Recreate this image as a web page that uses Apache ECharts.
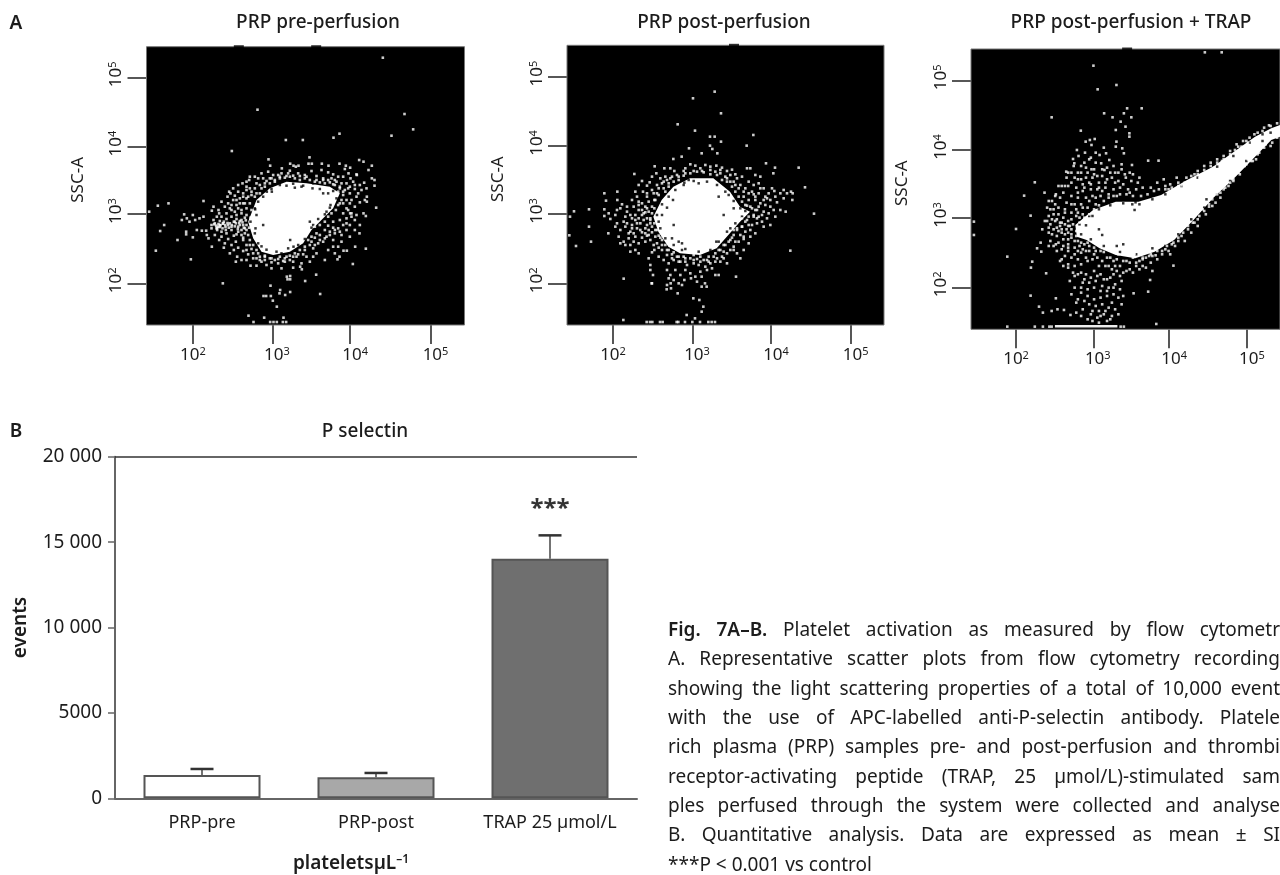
<!DOCTYPE html>
<html><head><meta charset="utf-8">
<style>html,body{margin:0;padding:0;background:#fff}#c{width:1280px;height:875px}</style>
<script src="https://cdn.jsdelivr.net/npm/echarts@6/dist/echarts.min.js"></script>
</head><body><div id="c"></div>
<script>
// Flow-cytometry panels: values are display channels (biexponential scale), ticks at the decades.
const decadeExponents = [2,3,4,5];
const preXTicks=[139,379,611,852], preYTicks=[125,333,535,743];
const postXTicks=[138,378,612,851], postYTicks=[125,333,537,745];
const trapXTicks=[139,379,612,852], trapYTicks=[126,334,538,747];

const preCore=[[305,310],[330,375],[370,410],[420,430],[480,425],[550,415],[580,395],[560,350],[530,320],[495,285],[470,245],[430,220],[380,210],[345,220],[320,260]];
const preHoles=[[326,347],[296,343],[301,310],[289,287],[303,285],[431,255],[501,280],[441,235],[376,400],[361,400],[401,435],[465,415],[498,410],[530,395],[540,340],[552,360],[350,300],[327,290],[575,375],[500,425],
[325,350],[335,370],[350,385],[375,408],[400,420],[440,424],[470,418],[520,408],[560,402],[570,380],[550,352],[535,332],[515,318],[495,292],[475,258],[455,240],[425,230],[390,220],[360,226],[335,245],[325,275],[312,310],[445,412],[420,418],[545,395],[500,300],[490,310],[330,330],[345,236],[405,215]];
const preDots=[[709,802],[333,646],[774,633],[800,587],[735,568],[579,574],[561,562],[418,555],[469,555],[256,522],[489,503],[366,497],[638,495],[651,490],[676,478],[579,484],[598,478],[546,478],[526,484],[496,484],[486,484],[431,484],[441,478],[456,478],[406,470],[371,478],[611,472],[666,465],[606,455],[631,450],[676,440],[684,435],[653,427],[684,418],[689,352],[661,385],[661,370],[651,335],[658,327],[611,335],[639,275],[626,235],[658,229],[591,223],[601,223],[579,205],[573,197],[619,183],
[521,93],[509,151],[476,132],[466,167],[461,175],[431,137],[423,137],[421,145],[431,147],[372,118],[431,99],[416,90],[401,105],[399,95],[373,87],[359,87],[351,87],[379,73],[391,55],[306,28],[321,9],[353,22],[371,9],[381,9],[391,9],[409,9],[419,9],[411,22],[229,125],[133,197],[28,223],[93,255],[41,282],[53,300],[8,340],[34,358],[66,365],[171,372],[113,332],[106,315],[121,320],[129,310],[146,315],[159,320],[171,325],[139,330],[119,280],[119,272],[139,263],[151,285],[166,283],[179,283],[181,270],[186,260],[196,235],[201,355],[196,343],[216,345],[211,325],[201,315],
[365,460],[430,463],[448,475],[495,462],[525,465],[560,452],[630,452],[595,468],[545,458],[405,455],[325,445],[308,435],[275,420],[248,400],[635,395],[655,375],[612,440],[590,445],[570,430],[620,430],[640,420],[600,425],[660,410],[645,405],[625,408],[605,410],[580,415],[590,400],[610,395],[630,385],[615,375],[640,368],[600,375],[580,365],[625,355],[605,345],[590,335],[630,330],[615,325],[600,320],[580,315],[560,310],[590,300],[575,290],[560,292],[545,298],[610,300],[600,285],[585,270],[565,275],[550,280],[535,285],[520,270],[505,262],[540,265],[560,255],[530,250],[515,245],[495,250],[475,225],[500,230],[480,205],[455,212],[440,205],[420,205],[395,198],[375,200],[355,205],[335,215],[315,228],[300,240],[290,255],[285,270],[295,290],[275,280],[262,268],[245,258],[268,250],[255,240],[275,232],[290,222],[305,212],[320,200],[345,190],[360,180],[375,170],[395,185],[415,190],[440,190],[465,185],[500,205],[535,195],[330,178],[272,205],[285,195],[262,225],[235,245],[225,265],[240,275],[210,290],[220,300],[195,290],[245,300],[255,295],[268,305],[280,312],[295,322],[270,330],[255,345],[240,335],[225,325],[285,345],[270,360],[245,365],[260,375],[280,380],[295,365],[305,385],[290,395],[275,400],[260,410],[300,415],[315,400],[330,395],[345,410],[330,425],[355,425],[370,440],[385,430],[350,440],[400,445],[420,447],[440,448],[460,447],[475,450],[510,447],[530,440],[545,435],[560,422],[555,440],[575,400],[575,445],[235,355],[225,370],[243,385],[252,395],[232,310],[218,335],[300,405],[310,445],[335,440],[345,455],[380,450],[300,430],[288,425],[265,388],[250,350],[205,270],[218,255],[232,232],[250,215],[268,190],[300,195],[312,178],[330,200],[405,170],[440,172],[490,190],[510,215],[545,225],[565,215],[575,235],[585,250],[610,265],[625,285],[640,300],[625,315],[560,235],
[300,330],[315,345],[310,365],[325,385],[340,395],[355,415],[370,425],[385,435],[400,440],[415,442],[430,445],[445,440],[460,435],[475,440],[490,435],[505,430],[520,428],[535,425],[550,428],[565,420],[580,410],[590,390],[585,375],[575,360],[590,365],[568,345],[555,335],[545,325],[535,310],[520,300],[505,295],[510,275],[495,265],[485,255],[475,235],[460,225],[445,215],[430,208],[415,200],[400,205],[385,195],[370,200],[355,208],[340,205],[330,225],[320,240],[310,255],[305,270],[300,285],[290,300],[285,315],[275,295],[265,310],[255,325],[250,305],[240,318],[230,305],[220,312],[215,295],[205,305],[195,300],[212,285],[225,280],[238,285],[255,285],[270,272],[285,285],[280,300],[295,275],[290,262],[310,240],[300,225],[320,215],[340,195],[355,195],[375,188],[410,192],[430,195],[450,205],[470,212],[490,240],[505,240],[520,255],[535,260],[550,270],[565,285],[580,280],[600,305],[615,335],[600,350],[610,365],[595,405],[610,415],[625,420],[585,425],[565,435],[530,435],[510,435],[480,445],[455,455],[425,455],[395,450],[375,440],[360,432],[340,420],[325,410],[315,390],[300,380],[290,365],[300,350],[285,335],[275,350],[265,340],[280,365],[290,385],[310,410],[270,375],[255,360],
[203,302],[209,298],[216,303],[222,299],[229,304],[236,300],[243,306],[212,291],[220,294],[228,290],[237,294],[247,292],[256,300],[262,310],[270,318],[278,306],[288,308],[298,314],[265,296],[274,288],[300,300],[292,292],[308,292],[312,322],[318,300]];

const postCore=[[259,325],[284,375],[319,415],[369,440],[439,440],[489,400],[519,355],[549,340],[519,310],[484,270],[449,230],[399,210],[339,215],[304,235],[274,280]];
const postHoles=[[318,375],[300,352],[285,330],[320,300],[335,250],[315,260],[345,225],[455,385],[485,390],[470,330],[500,350],[365,435],[395,425],[345,245],[448,250],[490,290],[350,420],
[270,330],[285,362],[305,385],[325,405],[352,427],[380,432],[420,430],[450,420],[475,400],[500,372],[520,350],[525,325],[505,305],[480,280],[455,250],[430,225],[395,220],[355,228],[320,240],[295,260],[280,290],[275,310],[535,342]];
const postDots=[[443,700],[378,680],[462,635],[332,602],[384,583],[559,570],[429,565],[443,565],[462,550],[539,538],[366,530],[429,538],[436,528],[404,515],[451,515],[344,505],[319,498],[597,485],[695,472],[624,472],[619,455],[714,413],[741,334],[670,223],[677,395],[676,375],[656,340],[507,145],[170,139],[169,15],[9,325],[21,341],[66,347],[66,295],[7,269],[27,237],[72,250],[112,395],[117,373],[112,347],[112,327],[124,275],[151,400],[151,375],[202,453],
[239,9],[249,9],[256,9],[279,9],[287,9],[329,9],[334,9],[354,9],[376,9],[399,9],[424,9],[434,9],[444,9],[359,30],[384,20],[404,40],[409,55],[379,80],[397,75],[332,95],[299,107],[254,125],[311,125],[404,115],[419,115],[414,125],
[263,476],[268,455],[292,470],[310,470],[322,462],[355,470],[370,482],[385,478],[400,470],[415,480],[430,475],[448,478],[465,472],[480,462],[495,466],[505,452],[540,470],[550,470],[565,450],[580,445],[255,445],[248,428],[280,440],[295,445],[240,418],[225,432],[215,420],[228,400],[240,385],[255,405],[270,420],[285,425],[300,435],[315,445],[330,450],[350,462],[445,460],[460,455],[475,445],[490,450],[510,440],[525,445],[545,430],[560,420],[575,425],[590,410],[605,395],[622,402],[640,395],[650,380],[625,385],[610,375],[595,385],[575,395],[555,400],[535,410],[520,420],[505,420],[490,430],[530,385],[545,375],[565,375],[580,365],[595,360],[610,355],[620,345],[605,335],[590,340],[570,345],[555,350],[540,358],[560,330],[575,325],[585,310],[600,320],[590,295],[570,305],[555,300],[540,315],[525,320],[525,295],[510,285],[500,270],[520,270],[535,280],[550,285],[505,250],[490,255],[475,240],[455,225],[470,220],[490,225],[510,215],[520,200],[470,200],[440,205],[420,195],[400,205],[380,210],[355,200],[335,205],[315,212],[300,225],[285,240],[280,262],[270,285],[262,305],[255,335],[262,350],[262,375],[270,395],[290,410],[305,425],
[245,200],[250,180],[250,165],[258,150],[255,125],[275,205],[290,195],[305,185],[320,195],[340,190],[360,180],[380,195],[395,180],[415,175],[430,185],[445,190],[460,190],[300,165],[310,150],[325,165],[340,150],[355,165],[370,155],[385,145],[400,160],[420,165],[435,170],[445,150],[305,140],[320,135],[335,125],[352,135],[372,140],[390,130],[404,145],[455,150],[300,120],[312,110],[345,120],[262,225],[275,232],[255,218],
[230,335],[215,345],[200,355],[190,330],[175,325],[180,340],[205,315],[220,305],[240,300],[250,315],[235,290],[225,278],[210,290],[195,300],[170,310],[150,305],[145,295],[160,285],[175,295],[190,280],[205,265],[225,262],[240,268],[255,278],[235,250],[215,245],[200,250],[185,260],[170,250],[155,265],[160,245],[175,240],[190,240],[205,225],[190,220],[215,215],[260,240],[245,270],[130,318],[125,335],[145,330],[160,350],[180,355],[195,375],[210,385],[225,365],[240,350],[215,370],[205,400],[235,338],[150,345],[165,362],
[600,380],[615,410],[580,410],[560,392],[630,368],[650,405],[660,395],[672,400],[640,345],[625,325],[610,300],[565,275],[550,265],[530,258],[545,245],[500,235],[480,185],[530,225],
[250,320],[245,340],[255,355],[265,375],[275,390],[295,400],[305,415],[320,430],[335,435],[350,448],[370,455],[390,460],[410,458],[430,452],[450,450],[465,435],[480,430],[495,415],[505,400],[515,385],[525,370],[535,360],[550,355],[565,345],[560,325],[545,325],[535,310],[525,295],[510,290],[500,285],[495,262],[485,250],[470,240],[460,225],[445,215],[425,205],[410,195],[390,198],[370,200],[350,205],[330,205],[320,218],[305,225],[295,240],[285,255],[275,268],[265,285],[255,295],[245,285],[250,305],[240,320],[230,315],[225,330],[215,320],[205,330],[195,320],[210,305],[195,290],[180,305],[185,275],[200,275],[220,285],[235,275],[250,255],[265,265],[270,245],[285,225],[300,210],[315,200],[335,190],[355,190],[380,185],[400,190],[425,190],[450,200],[465,205],[480,215],[500,225],[515,250],[530,265],[545,300],[570,320],[585,330],[575,355],[590,375],[565,385],[545,395],[530,400],[515,410],[500,430],[480,440],[460,465],[430,465],[405,462],[380,462],[355,455],[335,445],[310,440],[290,430],[275,410],[260,395],[245,370],[235,355],[225,345],[240,395],[215,360]];

const trapCore=[[322,313],[377,358],[447,383],[517,383],[587,403],[667,448],[747,488],[827,543],[877,578],[927,603],[960,615],[960,580],[927,568],[877,518],[817,458],[747,393],[687,328],[627,268],[567,233],[507,213],[447,223],[397,243],[357,268],[327,278]];
const trapHoles=[[505,358],[727,390],[405,283],[395,300],[450,250],[470,255],[355,312],[375,340],[925,590],[508,381],[498,375],
[335,315],[365,340],[395,360],[430,372],[470,378],[520,375],[560,390],[600,405],[650,430],[700,455],[760,488],[810,520],[860,560],[900,585],[900,565],[850,505],[800,445],[760,405],[720,365],[680,330],[640,285],[600,250],[560,243],[510,225],[460,232],[410,250],[370,270],[340,285]];
const trapBottomRun=[[259,9],[452,9]];
const trapDots=[[722,831],[774,831],[378,791],[449,733],[391,720],[527,663],[482,663],[472,648],[411,648],[495,636],[437,636],[249,636],[462,623],[477,608],[447,598],[339,596],[489,588],[489,578],[449,563],[382,571],[367,568],[354,563],[327,538],[467,543],[447,548],[315,511],[579,506],[547,506],[294,473],[197,441],[164,401],[184,341],[139,301],[9,323],[9,283],[112,218],[204,243],[217,233],[189,203],[185,185],[232,168],[184,101],[210,68],[222,50],[249,55],[262,93],[267,60],[287,58],[307,43],[547,113],[553,148],[502,108],[625,191],[572,16],[112,8],[197,8],[222,8],[242,8],[249,8],[462,8],[472,8],
[372,553],[352,530],[332,520],[319,498],[417,528],[472,528],[397,523],[402,498],[317,490],[427,508],[497,493],[412,478],[372,480],[295,455],[340,470],[355,485],[385,500],[440,490],[465,495],[490,470],[478,455],[455,470],[430,470],[405,460],[380,465],[355,455],[330,450],[310,440],[345,435],[365,440],[395,440],[420,450],[445,440],[470,435],[495,445],[515,440],[530,425],[510,420],[485,420],[460,425],[440,420],[415,425],[390,420],[370,420],[345,415],[325,425],[300,430],[285,410],[310,400],[330,395],[355,395],[375,400],[400,400],[425,405],[450,400],[490,410],[275,395],[260,375],[295,380],[320,375],[340,375],[360,365],[385,375],[290,360],[310,350],[330,350],[345,345],[270,345],[255,345],[240,340],[260,325],[285,335],[300,325],
[245,315],[265,305],[280,290],[255,300],[240,290],[265,280],[285,270],[300,255],[245,265],[262,255],[280,240],[300,235],[320,245],[340,230],[355,215],[330,210],[310,215],[290,220],[275,205],[320,190],[340,195],[360,205],[380,225],[400,235],[420,215],[440,205],[455,225],[395,190],[415,190],[435,180],[460,190],[480,205],[500,215],[520,205],[540,215],[555,200],[575,210],[590,225],[610,235],[630,250],[520,180],[540,185],[560,175],[480,175],[500,170],[460,160],[440,165],[420,150],[400,165],[380,175],[355,165],[340,170],[320,160],[305,145],[345,140],[365,140],[385,145],[405,130],[425,125],[445,135],[465,145],[440,105],[420,100],[400,95],[380,90],[360,100],[340,110],[365,75],[385,70],[405,75],[425,65],[445,60],[465,75],[455,45],[435,40],[410,45],[390,35],[370,45],[345,60],[325,80],[310,105],[325,50],[395,20],[375,25],[420,25],
[575,440],[595,450],[615,435],[640,440],[665,455],[690,465],[700,475],[720,490],[740,500],[760,510],[780,520],[800,535],[820,555],[840,565],[860,575],[885,590],[905,605],[920,612],[635,455],[610,420],[555,425],[600,430],[650,432],[680,445],[705,455],[730,470],[750,485],[775,505],[795,512],[815,538],[835,548],[855,560],
[650,280],[670,300],[685,320],[700,330],[715,360],[735,375],[745,390],[760,405],[780,420],[795,430],[810,450],[825,470],[845,490],[865,505],[885,525],[905,545],[925,550],[640,265],[660,265],[680,290],[700,310],[725,345],[745,370],[770,395],[800,440],[830,480],[855,510],[880,510],[620,255],[600,240],[615,225],[575,235],[555,225],
[560,220],[530,215],[505,225],[490,230],[350,290],[330,300],[310,285],[295,300],[305,310],[335,320],[310,330],[300,270],[320,265],[340,260],[360,260],[380,245],[400,250],[425,250],[345,240],[365,235],[330,235],[275,320],[250,285],[240,305],[228,325],[220,300],[215,260],[265,330],[255,360],[240,385],[227,410],[262,405],[280,430],[300,470],[320,455],[340,490],[365,510],[385,530],[410,545],
[300,290],[310,300],[300,310],[290,315],[315,315],[325,295],[280,300],[290,285],[275,310],[270,295],[280,320],[310,275],[325,280],[340,300],[345,318],[335,335],[325,340],[350,335],[365,345],[380,360],[395,372],[410,385],[425,395],[440,400],[460,405],[480,405],[500,400],[525,400],[545,405],[565,415],[580,420],[600,420],[620,425],[640,430],[660,440],[680,460],[700,465],[720,478],[740,490],[760,500],[780,510],[800,525],[825,548],[850,565],[875,585],[900,595],[925,610],[945,618],
[330,265],[350,255],[365,250],[385,235],[410,232],[430,215],[450,210],[470,205],[490,200],[510,200],[530,210],[550,220],[570,222],[590,235],[605,250],[625,260],[640,275],[655,290],[670,310],[690,320],[705,340],[720,355],[735,368],[755,380],[770,410],[785,425],[810,445],[830,465],[850,495],[870,505],[890,530],[910,555],[930,560],[945,575],
[270,260],[285,250],[255,250],[240,250],[300,245],[320,225],[335,250],[355,235],[375,210],[390,215],[405,205],[425,190],[445,190],[470,170],[490,180],[510,190],[530,190],[450,175],[430,155],[410,150],[390,160],[370,155],[350,150],[330,165],[315,170],[300,185],[285,190],[265,235],[280,210],[300,195],[320,125],[340,125],[360,120],[380,125],[400,115],[420,115],[440,125],[460,120],[330,90],[350,85],[375,55],[395,55],[415,55],[435,80],[455,95],[470,100],[340,40],[360,30],[400,40],[430,30],
[330,410],[350,425],[370,435],[395,425],[415,440],[435,455],[455,445],[475,465],[500,465],[520,455],[340,450],[360,470],[380,480],[405,480],[420,485],[445,470],[465,480],[375,455],[390,460],[350,500],[370,515],[330,470],[310,470],[290,430],[270,430],[260,400],[250,385],[245,360],[235,365],[270,365],[290,350],[235,325],[250,330],[310,375],[325,360],[345,365],[365,385],[385,395],[405,415]];

const topNotchesPre=[[277,835],[509,835]], topNotchesPost=[[501,839]], topNotchesTrap=[[482,841]];

// Panel B
const barCategories=['PRP-pre','PRP-post','TRAP 25 µmol/L'];
const barMeans=[1366,1229,14030];
const barErrors=[351,254,1365];
const barColors=['#ffffff','#a8a8a8','#6f6f6f'];
const yTickLabels={0:'0',5000:'5000',10000:'10 000',15000:'15 000',20000:'20 000'};
const significance=[['TRAP 25 µmol/L',16950,'***']];

const captionLines=[
 ['Fig.*','7A–B.*','Platelet','activation','as','measured','by','flow','cytometr'],
 ['A.','Representative','scatter','plots','from','flow','cytometry','recording'],
 ['showing','the','light','scattering','properties','of','a','total','of','10,000','event'],
 ['with','the','use','of','APC-labelled','anti-P-selectin','antibody.','Platele'],
 ['rich','plasma','(PRP)','samples','pre-','and','post-perfusion','and','thrombi'],
 ['receptor-activating','peptide','(TRAP,','25','µmol/L)-stimulated','sam'],
 ['ples','perfused','through','the','system','were','collected','and','analyse'],
 ['B.','Quantitative','analysis.','Data','are','expressed','as','mean','±','SI'],
 ['***P','<','0.001','vs','control']
];

const FONT='"Noto Sans", sans-serif';
const INK='#1c1c1c';

const panels=[
 {left:146.5,top:46.7,w:318,h:278.3,xr:954,yr:835,xt:preXTicks,yt:preYTicks,core:[preCore],dots:preDots,holes:preHoles,notch:topNotchesPre},
 {left:567,top:45.3,w:317,h:279.7,xr:951,yr:839,xt:postXTicks,yt:postYTicks,core:[postCore],dots:postDots,holes:postHoles,notch:topNotchesPost},
 {left:971,top:49,w:318,h:280.3,xr:954,yr:841,xt:trapXTicks,yt:trapYTicks,core:[trapCore],dots:trapDots,holes:trapHoles,notch:topNotchesTrap,run:trapBottomRun}
];

const grids=[],xAxes=[],yAxes=[],series=[];
const xLabelPad=[0,8,10,10];
panels.forEach((p,i)=>{
 grids.push({left:p.left,top:p.top,width:p.w,height:p.h,show:true,backgroundColor:'#000',borderColor:'#777',borderWidth:1,z:1});
 xAxes.push({gridIndex:i,type:'value',min:0,max:p.xr,
  axisLine:{show:false},splitLine:{show:false},
  axisTick:{show:true,length:19,customValues:p.xt,lineStyle:{color:'#444',width:1.8}},
  axisLabel:{show:true,customValues:p.xt,margin:21,color:INK,fontFamily:FONT,
   formatter:v=>{const k=p.xt.indexOf(v);return '{p'+k+'|}{b|10}{s|'+decadeExponents[k]+'}';},
   rich:{b:{fontSize:17,fontFamily:FONT,color:INK},s:{fontSize:11,fontFamily:FONT,color:INK,padding:[0,0,7,0]},
     p0:{width:xLabelPad[0]},p1:{width:xLabelPad[1]},p2:{width:xLabelPad[2]},p3:{width:xLabelPad[3]}}}});
 yAxes.push({gridIndex:i,type:'value',min:0,max:p.yr,
  name:'SSC-A',nameLocation:'middle',nameGap:60,nameTextStyle:{fontFamily:FONT,fontSize:17,color:INK,padding:[0,0,0,12]},
  axisLine:{show:false},splitLine:{show:false},
  axisTick:{show:true,length:19,customValues:p.yt,lineStyle:{color:'#444',width:1.8}},
  axisLabel:{show:true,customValues:p.yt,rotate:90,margin:21,color:INK,fontFamily:FONT,
   formatter:v=>{const k=p.yt.indexOf(v);return '{p|}{b|10}{s|'+decadeExponents[k]+'}';},
   rich:{b:{fontSize:17,fontFamily:FONT,color:INK},s:{fontSize:11,fontFamily:FONT,color:INK,padding:[0,0,7,0]},p:{width:6}}}});
 p.core.forEach(poly=>series.push({type:'custom',xAxisIndex:i,yAxisIndex:i,silent:true,z:3,data:poly,
   renderItem:(params,api)=>{ if(params.dataIndex!==0) return null;
     return {type:'polygon',shape:{points:poly.map(d=>api.coord(d))},style:{fill:'#fff'}};},
   encode:{x:0,y:1}}));
 series.push({type:'scatter',xAxisIndex:i,yAxisIndex:i,silent:true,z:5,symbol:'rect',symbolSize:2.6,itemStyle:{color:'#fff'},data:p.dots});
 series.push({type:'scatter',xAxisIndex:i,yAxisIndex:i,silent:true,z:4,symbol:'rect',symbolSize:2.5,itemStyle:{color:'#000'},data:p.holes});
 series.push({type:'scatter',xAxisIndex:i,yAxisIndex:i,silent:true,z:2,clip:false,symbol:'rect',symbolSize:[10,3],itemStyle:{color:'#000'},data:p.notch});
 if(p.run) series.push({type:'line',xAxisIndex:i,yAxisIndex:i,silent:true,z:4,symbol:'none',lineStyle:{color:'#eee',width:2.5},data:p.run});
});

// bar panel
grids.push({left:115,top:456.7,width:522,height:341.6,z:1});
xAxes.push({gridIndex:3,type:'category',data:barCategories,
 name:'plateletsµL{s|–1}',nameLocation:'middle',nameGap:55,
 nameTextStyle:{fontFamily:FONT,fontSize:19,fontWeight:600,color:INK,padding:[0,50,0,0],rich:{s:{fontSize:12,fontWeight:600,fontFamily:FONT,color:INK,padding:[0,0,8,0]}}},
 axisLine:{lineStyle:{color:'#666',width:2}},axisTick:{alignWithLabel:true,length:7,lineStyle:{color:'#666',width:1.5}},
 axisLabel:{fontFamily:FONT,fontSize:18,color:INK,margin:16,interval:0}});
yAxes.push({gridIndex:3,type:'value',min:0,max:20000,interval:5000,
 name:'events',nameLocation:'middle',nameGap:85,nameTextStyle:{fontFamily:FONT,fontSize:19,fontWeight:600,color:INK},
 axisLine:{show:true,lineStyle:{color:'#666',width:2}},axisTick:{show:true,length:7,lineStyle:{color:'#666',width:1.5}},splitLine:{show:false},
 axisLabel:{fontFamily:FONT,fontSize:19,color:INK,margin:13,formatter:v=>yTickLabels[v]}});
series.push({type:'bar',xAxisIndex:3,yAxisIndex:3,barWidth:117,z:3,silent:true,
 data:barMeans.map((v,i)=>({value:v,itemStyle:{color:barColors[i],borderColor:'#555',borderWidth:2}})),
 markLine:{silent:true,symbol:'none',label:{show:false},lineStyle:{color:'#333',width:1.5,type:'solid'},data:[{yAxis:20000}]}});
series.push({type:'custom',xAxisIndex:3,yAxisIndex:3,silent:true,z:4,
 data:barMeans.map((v,i)=>[i,v,v+barErrors[i]]),encode:{x:0,y:2},
 renderItem:(params,api)=>{
  const a=api.coord([api.value(0),api.value(1)]),b=api.coord([api.value(0),api.value(2)]);
  return {type:'group',children:[
   {type:'line',shape:{x1:a[0],y1:a[1],x2:b[0],y2:b[1]},style:{stroke:'#444',lineWidth:1.5}},
   {type:'line',shape:{x1:b[0]-11.5,y1:b[1],x2:b[0]+11.5,y2:b[1]},style:{stroke:'#333',lineWidth:2.5}}]};}});
series.push({type:'scatter',xAxisIndex:3,yAxisIndex:3,silent:true,z:5,symbolSize:1,itemStyle:{color:'transparent'},
 data:significance.map(d=>[d[0],d[1]]),
 label:{show:true,position:'inside',formatter:significance[0][2],fontFamily:FONT,fontSize:24,fontWeight:700,color:'#000'}});

const titleStyle={fontFamily:FONT,fontSize:19,fontWeight:500,color:INK};
const titleAt=(text,x,y,weight)=>({text,left:x,top:y,textAlign:'center',textVerticalAlign:'middle',padding:0,textStyle:Object.assign({},titleStyle,weight?{fontWeight:weight}:{})});

// caption, justified line by line out to the right edge of the page
const meas=document.createElement('canvas').getContext('2d');
const CAP_L=668,CAP_R=1280,CAP_TOP=630.7,CAP_STEP=29.3,CAP_SIZE=19;
const capEls=[];
captionLines.forEach((words,li)=>{
 const items=words.map(w=>{const bold=w.endsWith('*')&&w.length>1&&!w.startsWith('*');
   const t=bold?w.slice(0,-1):w; const font=(bold?'600 ':'')+CAP_SIZE+'px '+FONT; meas.font=font;
   return {t,font,bold,width:meas.measureText(t).width};});
 const total=items.reduce((s,a)=>s+a.width,0);
 const last=li===captionLines.length-1;
 const gap=last?CAP_SIZE*0.26:(CAP_R-CAP_L-total)/(items.length-1);
 let x=CAP_L;
 items.forEach(it=>{
  capEls.push({type:'text',x,y:CAP_TOP+li*CAP_STEP,silent:true,style:{text:it.t,fontFamily:FONT,fontSize:CAP_SIZE,fontWeight:it.bold?600:400,fill:INK,verticalAlign:'middle'}});
  x+=it.width+gap;});
});

const chart=echarts.init(document.getElementById('c'),null,{renderer:'canvas',width:1280,height:875});
chart.setOption({animation:false,backgroundColor:'#fff',
 title:[titleAt('A',16,24,600),titleAt('B',16,432,600),titleAt('PRP pre-perfusion',318,23),titleAt('PRP post-perfusion',724,23),titleAt('PRP post-perfusion + TRAP',1131,23),titleAt('P selectin',365,432)],
 grid:grids,xAxis:xAxes,yAxis:yAxes,series,graphic:{elements:capEls}});
</script></body></html>
